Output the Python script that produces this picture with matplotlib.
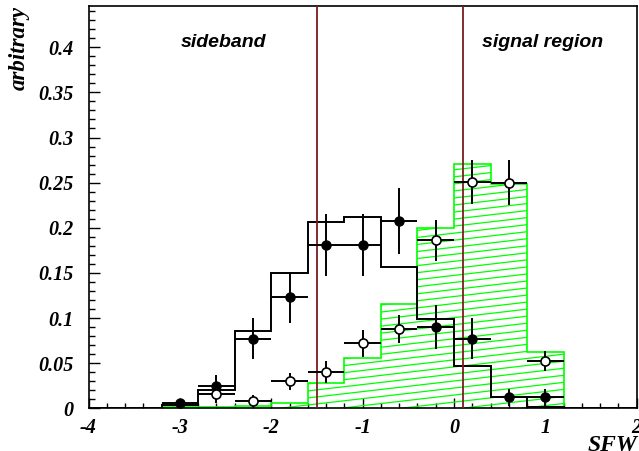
import numpy as np
import matplotlib
matplotlib.use('Agg')
import matplotlib.pyplot as plt
from matplotlib.collections import LineCollection

# bins of SFW, 15 bins from -4 to 2
bin_lo = -4.0
bin_hi = 2.0
n_bins = 15

# histogram contents (per bin)
sig_hist = [0, 0, 0.001, 0.001, 0.002, 0.006, 0.028, 0.056, 0.115, 0.200,
            0.271, 0.249, 0.062, 0, 0]
bkg_hist = [0, 0, 0.004, 0.020, 0.086, 0.150, 0.206, 0.212, 0.157, 0.099,
            0.047, 0.012, 0.001, 0, 0]

# data points (bin centres)
full_x = [-3.0, -2.6, -2.2, -1.8, -1.4, -1.0, -0.6, -0.2, 0.2, 0.6, 1.0]
full_y = [0.006, 0.025, 0.077, 0.123, 0.181, 0.181, 0.2075, 0.090, 0.077, 0.012, 0.012]
full_err = [0.004, 0.012, 0.0225, 0.028, 0.034, 0.034, 0.0365, 0.024, 0.0227, 0.009, 0.009]

open_x = [-2.6, -2.2, -1.8, -1.4, -1.0, -0.6, -0.2, 0.2, 0.6, 1.0]
open_y = [0.0155, 0.008, 0.030, 0.040, 0.072, 0.088, 0.186, 0.251, 0.250, 0.052]
open_err = [0.010, 0.007, 0.0095, 0.012, 0.0148, 0.0153, 0.0225, 0.0244, 0.025, 0.011]

cuts = [-1.5, 0.1]
region_labels = ['sideband', 'signal region']

edges = np.linspace(bin_lo, bin_hi, n_bins + 1)
half_w = (bin_hi - bin_lo) / n_bins / 2

fig = plt.figure(figsize=(6.39, 4.51), dpi=100)
ax = fig.add_axes([0.1385, 0.0947, 0.858, 0.892])

green = '#00ff00'

# hatched signal histogram
sig_patch = ax.stairs(sig_hist, edges, fill=True, facecolor='none',
                      edgecolor=green, lw=1.2, zorder=2)
offs = np.arange(-0.3, 1.05, 0.0175)
segs = [[(0, o), (1, o + 0.158)] for o in offs]
hatch = LineCollection(segs, transform=ax.transAxes, colors=green, lw=0.9, zorder=2)
ax.add_collection(hatch)
hatch.set_clip_path(sig_patch)

# background histogram
ax.stairs(bkg_hist, edges, color='black', lw=1.4, zorder=3)

for c in cuts:
    ax.axvline(c, color='#7a1e1e', lw=1.3, zorder=4)

ax.errorbar(full_x, full_y, yerr=full_err, xerr=half_w, fmt='o', color='black',
            ms=6.5, elinewidth=1.4, capsize=0, zorder=5)
ax.errorbar(open_x, open_y, yerr=open_err, xerr=half_w, fmt='o', color='black',
            mfc='white', mec='black', mew=1.2, ms=6.5, elinewidth=1.4, capsize=0, zorder=5)

ax.set_xlim(bin_lo, bin_hi)
ax.set_ylim(0, 0.4457)
ax.set_xticks(np.arange(-4, 3, 1))
ax.set_xticks(np.arange(-4, 2.01, 0.2), minor=True)
ax.set_yticks(np.arange(0, 0.41, 0.05))
ax.set_yticks(np.arange(0, 0.445, 0.01), minor=True)
ax.set_xticklabels(['-4', '-3', '-2', '-1', '0', '1', '2'])
ax.set_yticklabels(['0', '0.05', '0.1', '0.15', '0.2', '0.25', '0.3', '0.35', '0.4'])

tfont = dict(family='Liberation Serif', weight='bold', style='italic', size=14.5)
for lab in ax.get_xticklabels() + ax.get_yticklabels():
    lab.set_fontproperties(matplotlib.font_manager.FontProperties(**tfont))

ax.tick_params(axis='both', which='both', direction='in', top=False, right=False)
ax.tick_params(axis='y', which='major', length=8, width=1, pad=11)
ax.tick_params(axis='y', which='minor', length=4, width=1)
ax.tick_params(axis='x', which='major', length=7, width=1, pad=7)
ax.tick_params(axis='x', which='minor', length=3.5, width=1)
for s in ax.spines.values():
    s.set_linewidth(1.2)

ax.text(0.247, 0.91, region_labels[0], transform=ax.transAxes, ha='center', va='center',
        family='Liberation Sans', weight='bold', style='italic', size=14)
ax.text(0.829, 0.91, region_labels[1], transform=ax.transAxes, ha='center', va='center',
        family='Liberation Sans', weight='bold', style='italic', size=14)

fig.text(0.03, 0.987, 'arbitrary', rotation=90, ha='center', va='top',
         family='Liberation Serif', weight='bold', style='italic', size=16.5)
fig.text(0.997, 0.035, 'SFW', ha='right', va='top',
         family='Liberation Serif', weight='bold', style='italic', size=17)

plt.savefig('out.png', dpi=100)
plt.close()
